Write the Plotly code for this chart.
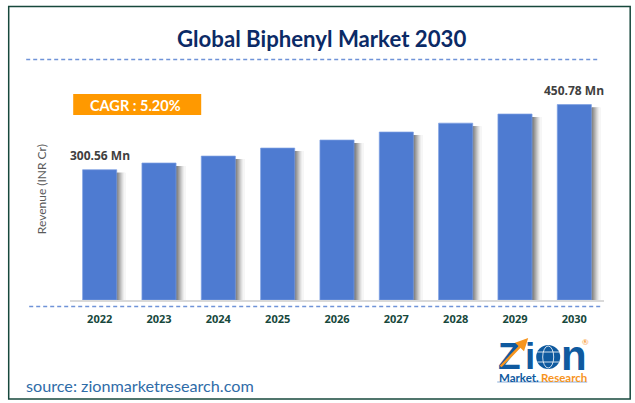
import plotly.graph_objects as go

# values
years = ['2022', '2023', '2024', '2025', '2026', '2027', '2028', '2029', '2030']
revenue = [300.56, 316.0, 332.0, 350.5, 369.0, 387.5, 408.0, 429.0, 450.78]
bar_labels = {'2022': '300.56 Mn', '2030': '450.78 Mn'}
shadow_greys = ['#7a7a7a', '#888888', '#999999', '#aaaaaa', '#bcbcbc', '#cecece', '#dedede', '#ececec', '#f6f6f6']

W, H = 635, 403
LEFT, RIGHT, TOP, BOTTOM = 69.8, 31.2, 60, 103
BAR_WIDTH = 0.575
CAT_PX = (W - LEFT - RIGHT) / len(years)
Y_MAX = (H - TOP - BOTTOM) / 0.4335

DARK_GREEN = '#17483c'
LOGO_BLUE = '#0f5a9f'
LOGO_ORANGE = '#f7941d'
DASH = '4px,3px'


def px(x):
    return (x - LEFT) / (W - LEFT - RIGHT)


def py(y):
    return 1 - (y - TOP) / (H - TOP - BOTTOM)


def text(x, y, label, size, color, bold=False, anchor='center', font='Lato', **kw):
    return dict(x=px(x), y=py(y), xref='paper', yref='paper', text=f'<b>{label}</b>' if bold else label,
                showarrow=False, xanchor=anchor, yanchor='middle',
                font=dict(family=font, size=size, color=color), **kw)


def rect(x0, y0, x1, y1, **kw):
    return dict(type='rect', xref='paper', yref='paper', x0=px(x0), y0=py(y0), x1=px(x1), y1=py(y1), **kw)


def line(x0, y0, x1, y1, color, width, dash='solid'):
    return dict(type='line', xref='paper', yref='paper', x0=px(x0), y0=py(y0), x1=px(x1), y1=py(y1),
                line=dict(color=color, width=width, dash=dash))


def ellipse(cx, cy, rx, ry, **kw):
    return dict(type='circle', xref='paper', yref='paper', x0=px(cx - rx), y0=py(cy - ry),
                x1=px(cx + rx), y1=py(cy + ry), **kw)


fig = go.Figure()

# soft shadow to the right of each bar, one thin strip per grey
for k, grey in enumerate(shadow_greys):
    fig.add_trace(go.Bar(x=years, y=[v - 7 for v in revenue], width=1.2 / CAT_PX,
                         offset=BAR_WIDTH / 2 + k / CAT_PX, marker=dict(color=grey, line=dict(width=0)),
                         hoverinfo='skip'))

fig.add_trace(go.Bar(x=years, y=revenue, width=BAR_WIDTH, offset=-BAR_WIDTH / 2,
                     marker=dict(color='#4e7bd1', line=dict(color='#7d9fe2', width=0.7))))

annotations = [
    text(321, 38, 'Global Biphenyl Market 2030', 22.2, '#0b2a66', bold=True),
    text(135, 105, 'CAGR : 5.20%', 14.5, 'white', bold=True),
    text(23.5, 385, 'source: zionmarketresearch.com', 16.2, '#2f6ca8', anchor='left'),
    text(41, 189, 'Revenue (INR Cr)', 12, '#595959', textangle=-90),
    # logo lettering
    text(509.5, 356, 'Z', 37, LOGO_BLUE, bold=True, font='Liberation Sans'),
    text(529.5, 356, 'i', 37, LOGO_BLUE, bold=True, font='Liberation Sans'),
    text(574, 355, 'n', 42, LOGO_BLUE, bold=True, font='Liberation Sans'),
    text(497, 377, 'Market.', 11.5, LOGO_BLUE, bold=True, anchor='left'),
    text(539, 377, 'Research', 11.5, LOGO_ORANGE, bold=True, anchor='left'),
    text(585, 342, '®', 8, LOGO_ORANGE),
]
# numeric-looking categories are read as numbers by annotations, so place by index
for i, (year, value) in enumerate(zip(years, revenue)):
    if year in bar_labels:
        annotations.append(dict(x=i, y=value, xref='x', yref='y', text=f'<b>{bar_labels[year]}</b>',
                                showarrow=False, yanchor='bottom', yshift=4,
                                font=dict(family='Open Sans', size=12, color='#404040')))

annotations.append(dict(x=px(528), y=py(338), ax=-29, ay=30, xref='paper', yref='paper',
                        showarrow=True, arrowhead=2, arrowsize=1,
                        arrowwidth=2.5, arrowcolor=LOGO_ORANGE, text=''))

shapes = [
    rect(8.5, 6.5, 630, 399, line=dict(color=DARK_GREEN, width=1.5), fillcolor='rgba(0,0,0,0)'),
    line(26, 59.5, 598, 59.5, '#6f93d8', 1.3, DASH),
    line(29, 306.5, 600, 306.5, '#6f93d8', 1.3, DASH),
    rect(73, 94, 201, 115, line=dict(width=0), fillcolor='#ff9900'),
    # logo globe
    ellipse(548, 357, 12, 12, fillcolor=LOGO_BLUE, line=dict(width=0)),
    ellipse(548, 357, 5.5, 11, fillcolor='rgba(0,0,0,0)', line=dict(color='white', width=0.8)),
    line(537, 352, 559, 352, 'white', 0.8),
    line(537, 362, 559, 362, 'white', 0.8),
    line(497, 382, 587, 382, '#6d9bd0', 0.8),
]

fig.update_layout(
    width=W, height=H,
    margin=dict(l=LEFT, r=RIGHT, t=TOP, b=BOTTOM, autoexpand=False),
    plot_bgcolor='white', paper_bgcolor='white',
    barmode='overlay', showlegend=False,
    annotations=annotations, shapes=shapes,
    xaxis=dict(type='category', range=[-0.5, len(years) - 0.5], showgrid=False, showline=True,
               linecolor='#d9d9d9', linewidth=1.5, ticks='outside', ticklen=8,
               tickcolor='rgba(0,0,0,0)', zeroline=False,
               tickfont=dict(family='Open Sans', size=11, color=DARK_GREEN, weight='bold')),
    yaxis=dict(range=[0, Y_MAX], showgrid=False, showticklabels=False, zeroline=False, ticks=''),
)

fig.write_html('out.html', config=dict(displayModeBar=False),
               post_script="document.body.style.margin='0';")
